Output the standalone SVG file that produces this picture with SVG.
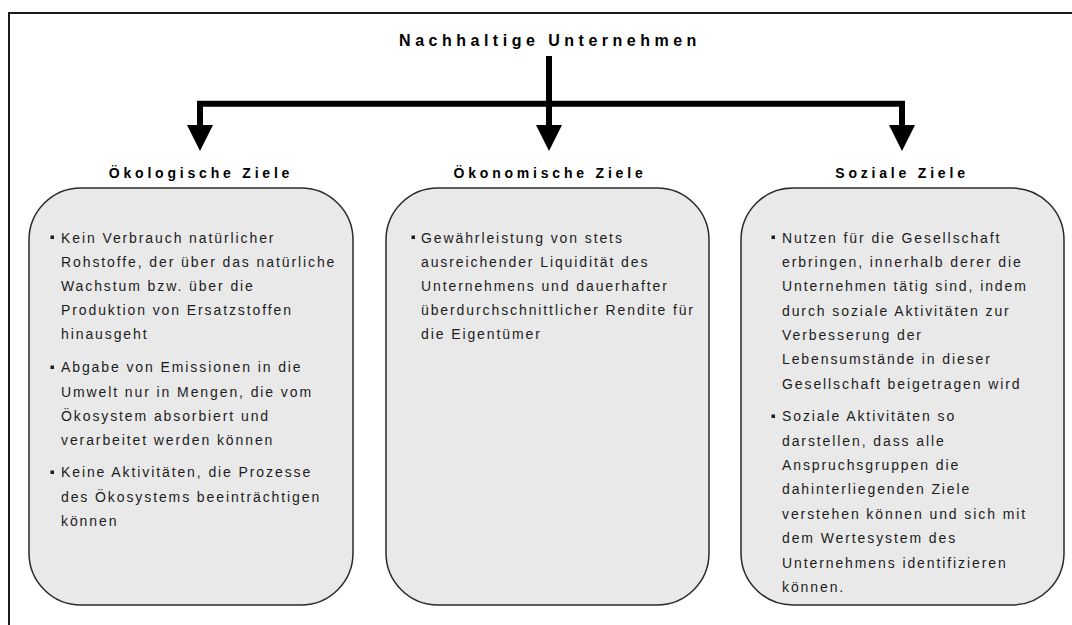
<svg xmlns="http://www.w3.org/2000/svg" width="1072" height="625" viewBox="0 0 1072 625">
<style>
.frame{fill:none;stroke:#1a1a1a;stroke-width:2}
.box{fill:#e9e9e9;stroke:#2a2a2a;stroke-width:1.5}
.title{font-family:"Liberation Sans",Arial,sans-serif;font-weight:bold;font-size:16px;letter-spacing:4.5px;fill:#000;text-anchor:middle}
.head{font-family:"Liberation Sans",Arial,sans-serif;font-weight:bold;font-size:14px;letter-spacing:3.8px;fill:#000;text-anchor:middle}
.body{font-family:"Liberation Sans",Arial,sans-serif;font-size:14px;letter-spacing:1.9px;fill:#1c1c1c}
.bul{fill:#1c1c1c}
.line{fill:none;stroke:#000;stroke-width:6;stroke-linejoin:miter}
.head-arrow{fill:#000}
</style>
<path class="frame" d="M9 640 V13 H1080"/>
<g id="root">
<text class="title" x="550" y="46">Nachhaltige Unternehmen</text>
</g>
<g id="connectors">
<path class="line" d="M549 56 V127"/>
<path class="line" d="M200 127 V103.7 H902 V127"/>
<polygon class="head-arrow" points="187,125 213,125 200,151"/>
<polygon class="head-arrow" points="536,125 562,125 549,151"/>
<polygon class="head-arrow" points="889,125 915,125 902,151"/>
</g>
<g id="oekologisch">
<text class="head" x="201" y="178">Ökologische Ziele</text>
<rect class="box" x="29" y="188" width="324" height="417" rx="52" ry="52"/>
<rect class="bul" x="50.5" y="235.5" width="3.5" height="3.5"/>
<rect class="bul" x="50.5" y="365.5" width="3.5" height="3.5"/>
<rect class="bul" x="50.5" y="470.5" width="3.5" height="3.5"/>
<text class="body" x="61" y="243">Kein Verbrauch natürlicher</text>
<text class="body" x="61" y="267">Rohstoffe, der über das natürliche</text>
<text class="body" x="61" y="291">Wachstum bzw. über die</text>
<text class="body" x="61" y="315">Produktion von Ersatzstoffen</text>
<text class="body" x="61" y="339">hinausgeht</text>
<text class="body" x="61" y="372">Abgabe von Emissionen in die</text>
<text class="body" x="61" y="397">Umwelt nur in Mengen, die vom</text>
<text class="body" x="61" y="421">Ökosystem absorbiert und</text>
<text class="body" x="61" y="445">verarbeitet werden können</text>
<text class="body" x="61" y="477">Keine Aktivitäten, die Prozesse</text>
<text class="body" x="61" y="502">des Ökosystems beeinträchtigen</text>
<text class="body" x="61" y="526">können</text>
</g>
<g id="oekonomisch">
<text class="head" x="550" y="178">Ökonomische Ziele</text>
<rect class="box" x="386" y="188" width="323" height="417" rx="52" ry="52"/>
<rect class="bul" x="411.5" y="235.5" width="3.5" height="3.5"/>
<text class="body" x="421" y="243">Gewährleistung von stets</text>
<text class="body" x="421" y="267">ausreichender Liquidität des</text>
<text class="body" x="421" y="291">Unternehmens und dauerhafter</text>
<text class="body" x="421" y="315">überdurchschnittlicher Rendite für</text>
<text class="body" x="421" y="339">die Eigentümer</text>
</g>
<g id="sozial">
<text class="head" x="902" y="178">Soziale Ziele</text>
<rect class="box" x="741" y="188" width="323" height="417" rx="52" ry="52"/>
<rect class="bul" x="771.5" y="235.5" width="3.5" height="3.5"/>
<rect class="bul" x="771.5" y="414.5" width="3.5" height="3.5"/>
<text class="body" x="782" y="243">Nutzen für die Gesellschaft</text>
<text class="body" x="782" y="267">erbringen, innerhalb derer die</text>
<text class="body" x="782" y="291">Unternehmen tätig sind, indem</text>
<text class="body" x="782" y="316">durch soziale Aktivitäten zur</text>
<text class="body" x="782" y="340">Verbesserung der</text>
<text class="body" x="782" y="364">Lebensumstände in dieser</text>
<text class="body" x="782" y="389">Gesellschaft beigetragen wird</text>
<text class="body" x="782" y="421">Soziale Aktivitäten so</text>
<text class="body" x="782" y="446">darstellen, dass alle</text>
<text class="body" x="782" y="470">Anspruchsgruppen die</text>
<text class="body" x="782" y="494">dahinterliegenden Ziele</text>
<text class="body" x="782" y="519">verstehen können und sich mit</text>
<text class="body" x="782" y="543">dem Wertesystem des</text>
<text class="body" x="782" y="568">Unternehmens identifizieren</text>
<text class="body" x="782" y="592">können.</text>
</g>
</svg>
